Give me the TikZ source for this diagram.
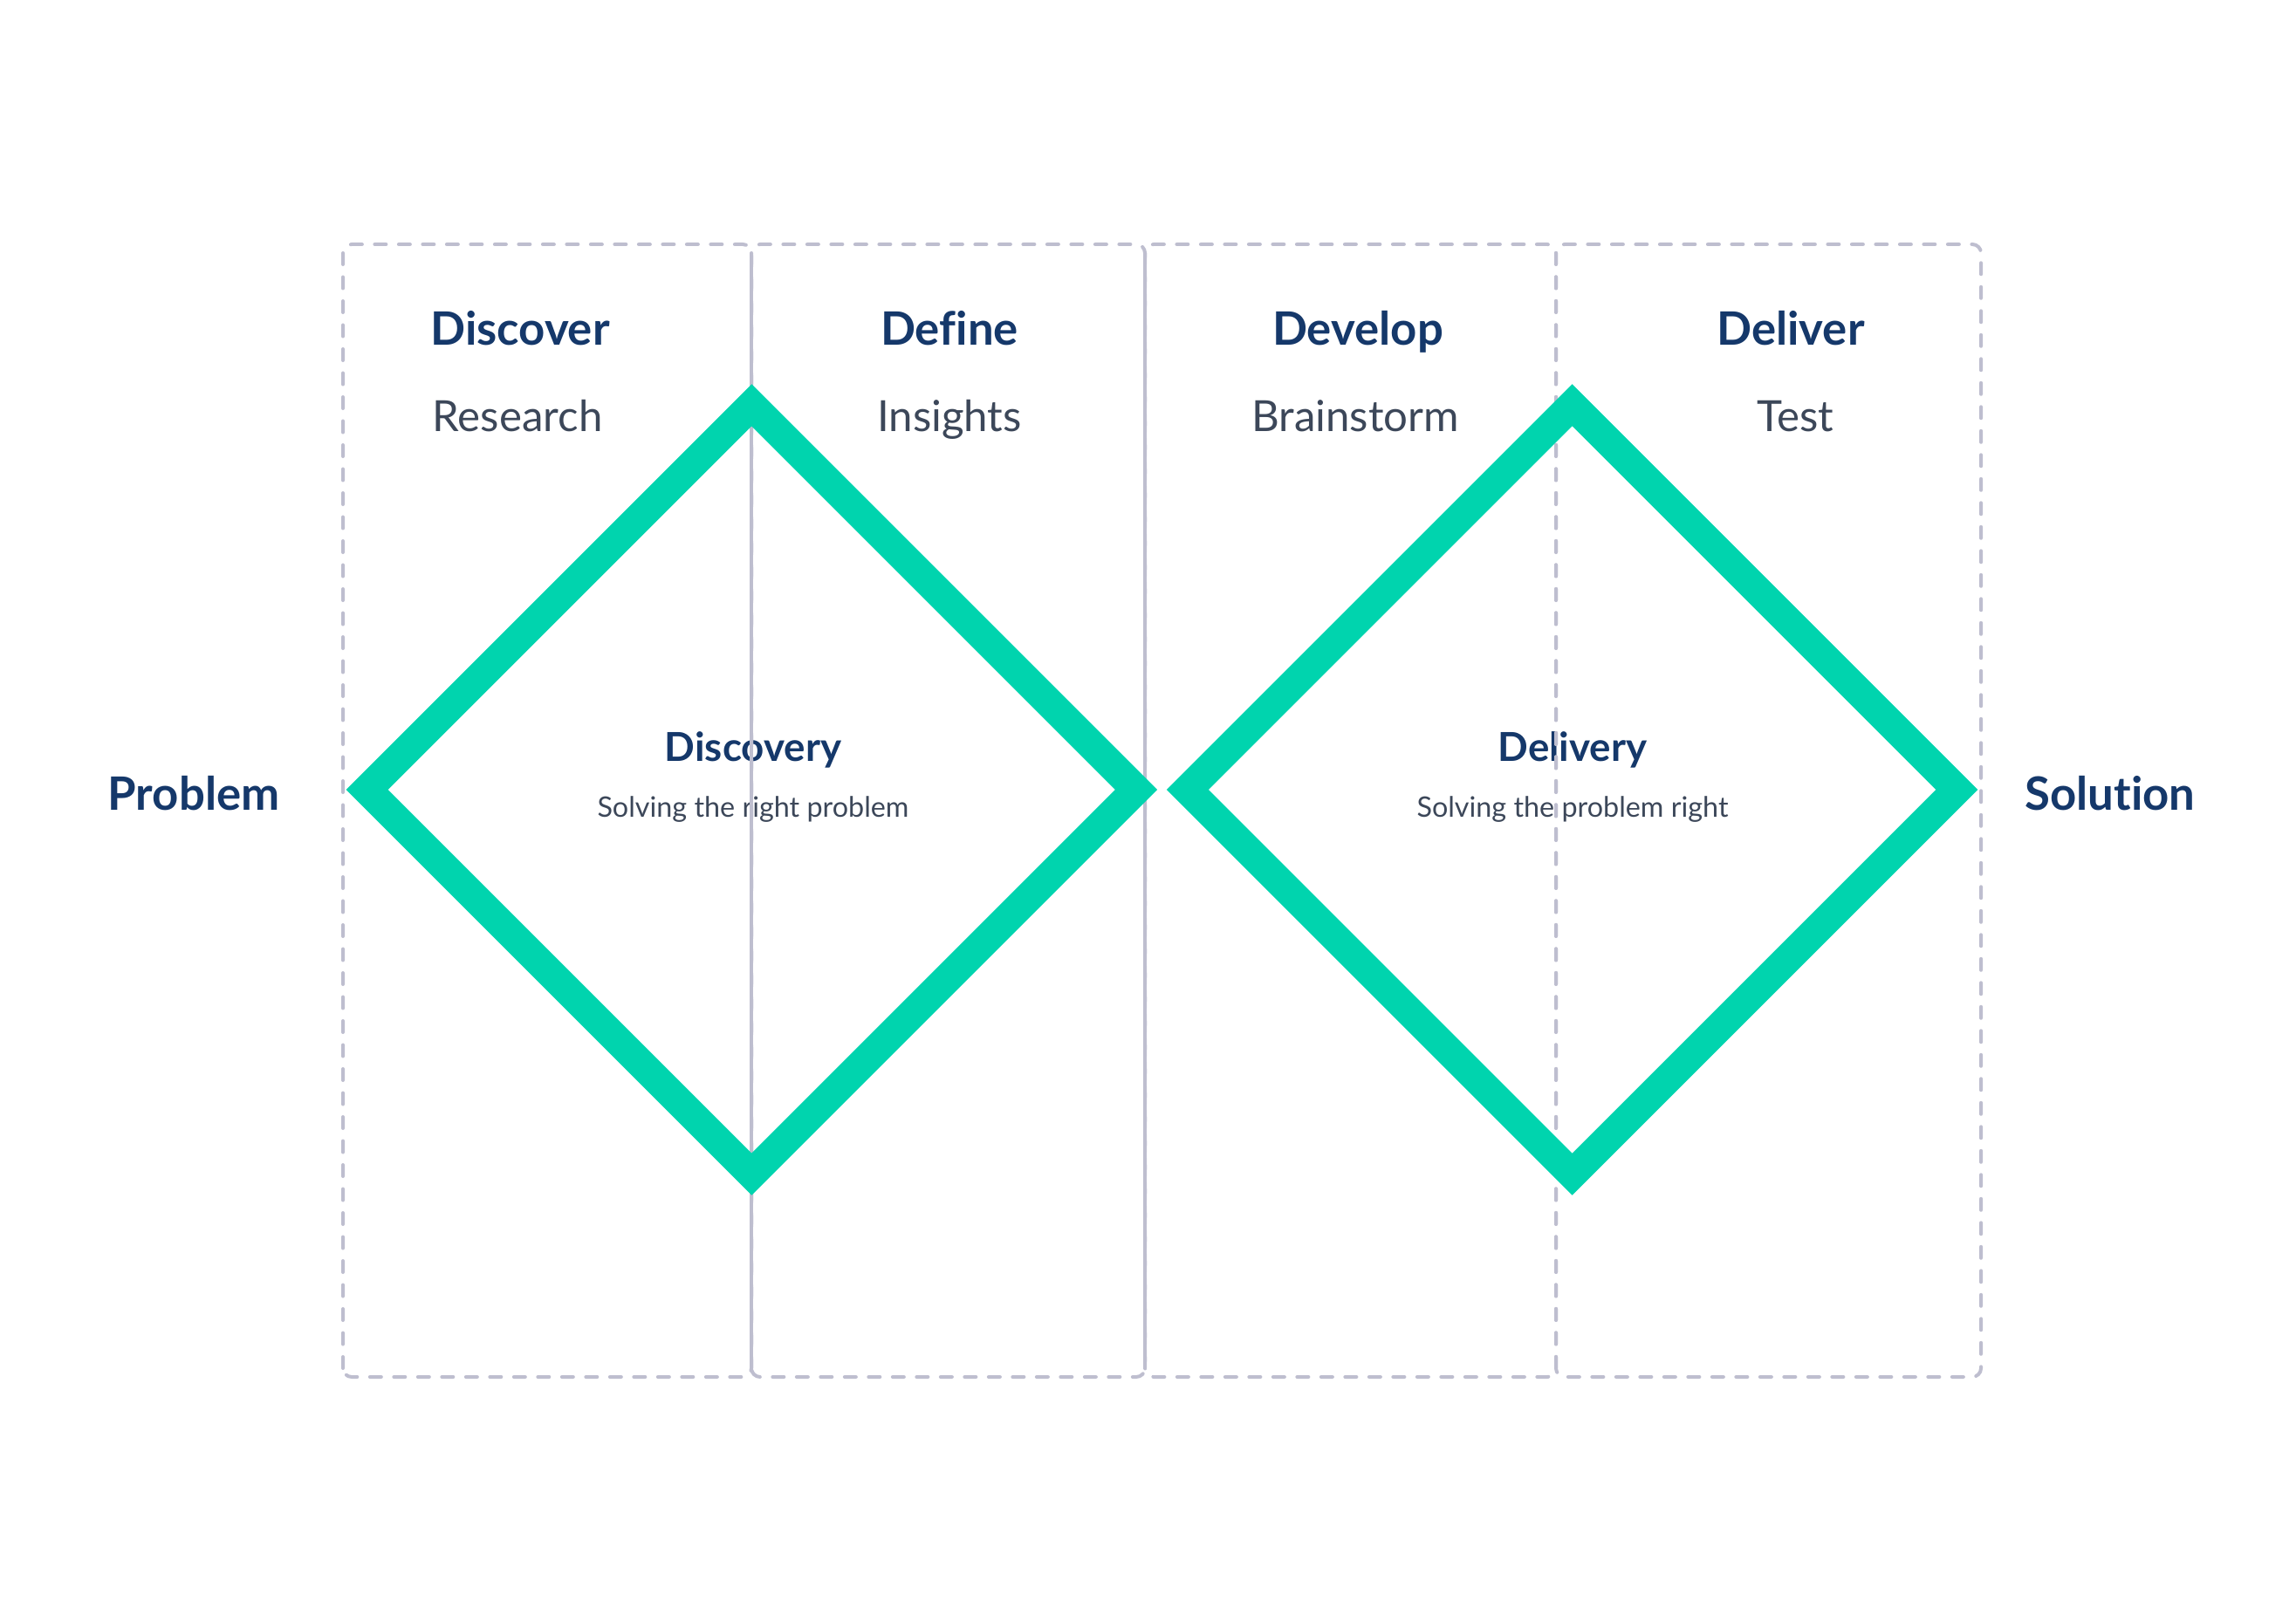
\documentclass[tikz,border=0pt]{standalone}
\usepackage{fontspec}
\setmainfont{Lato}[Ligatures=NoCommon]
\definecolor{navy}{HTML}{15386A}
\definecolor{slate}{HTML}{3C4759}
\definecolor{mint}{HTML}{00D4AE}
\definecolor{frame}{HTML}{BEBECF}
\begin{document}
\begin{tikzpicture}[
	phasebox/.style={draw=frame, line width=0.4mm, line cap=round, dash pattern=on 1.3mm off 1.45mm, rounded corners=1mm},
	seam/.style={draw=frame, line width=0.38mm},
	diamondline/.style={draw=mint, line width=3.4mm, line join=miter},
	phase/.style={anchor=base, text=navy, font=\fontsize{15}{18}\selectfont\bfseries},
	activity/.style={anchor=base, text=slate, font=\fontsize{14}{17}\selectfont},
	endpoint/.style={anchor=base, text=navy, font=\fontsize{15}{18}\selectfont\bfseries},
	stage/.style={anchor=base, text=navy, font=\fontsize{13}{16}\selectfont\bfseries},
	motto/.style={anchor=base, text=slate, font=\fontsize{9.2}{11}\selectfont}
	]
	\useasboundingbox (0,0) rectangle (26.31,18.59);
	
	% labels
	\node[phase] (discover) at (5.96,14.63) {Discover};
	\node[phase] (define) at (10.88,14.63) {Define};
	\node[phase] (develop) at (15.56,14.63) {Develop};
	\node[phase] (deliver) at (20.52,14.63) {Deliver};
	
	\node[activity] (research) at (5.93,13.64) {Research};
	\node[activity] (insights) at (10.88,13.64) {Insights};
	\node[activity] (brainstorm) at (15.53,13.64) {Brainstorm};
	\node[activity] (test) at (20.57,13.64) {Test};
	
	\node[endpoint] (problem) at (2.22,9.30) {Problem};
	\node[endpoint] (solution) at (24.18,9.30) {Solution};
	
	\node[stage] (discovery) at (8.63,9.86) {Discovery};
	\node[motto] (rightproblem) at (8.63,9.22) {Solving the right problem};
	\node[stage] (delivery) at (18.02,9.86) {Delivery};
	\node[motto] (problemright) at (18.02,9.22) {Solving the problem right};
	
	% boxes
	\draw[phasebox] (3.93,2.81) rectangle (8.61,15.79);
	\draw[phasebox] (8.61,2.81) rectangle (13.12,15.79);
	\draw[phasebox] (13.12,2.81) rectangle (17.83,15.79);
	\draw[phasebox] (17.83,2.81) rectangle (22.70,15.79);
	\draw[seam] (8.61,2.95) -- (8.61,15.65);
	\draw[seam] (13.12,2.95) -- (13.12,15.65);
	
	% diamonds
	\coordinate (firstcentre) at (8.613,9.54);
	\coordinate (secondcentre) at (18.016,9.54);
	\draw[diamondline] (firstcentre) ++(-4.407,0) -- ++(4.407,4.407) -- ++(4.407,-4.407) -- ++(-4.407,-4.407) -- cycle;
	\draw[diamondline] (secondcentre) ++(-4.407,0) -- ++(4.407,4.407) -- ++(4.407,-4.407) -- ++(-4.407,-4.407) -- cycle;
\end{tikzpicture}
\end{document}
